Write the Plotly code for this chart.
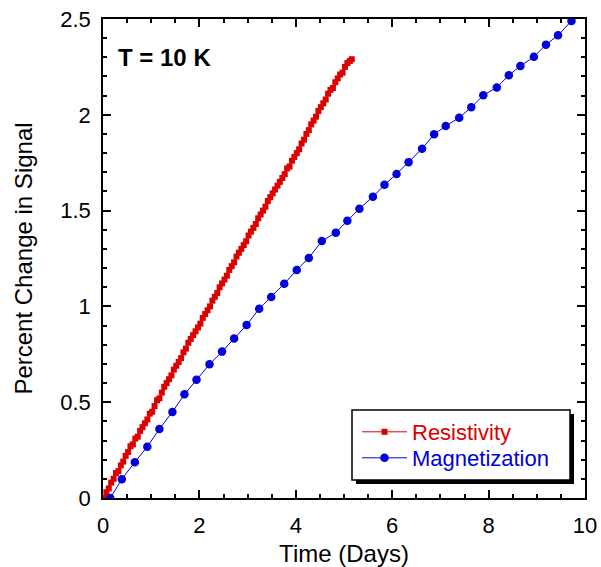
import plotly.graph_objects as go

# ---- data ----
mag_days = [0.15, 0.39, 0.66, 0.92, 1.17, 1.44, 1.69, 1.94, 2.21, 2.47, 2.72, 2.98, 3.24, 3.49,
            3.76, 4.02, 4.27, 4.54, 4.83, 5.07, 5.32, 5.60, 5.84, 6.09, 6.34, 6.62, 6.87, 7.11,
            7.39, 7.64, 7.89, 8.17, 8.42, 8.66, 8.94, 9.19, 9.44, 9.72]
mag_pct = [0.00, 0.098, 0.187, 0.268, 0.36, 0.449, 0.541, 0.617, 0.698, 0.764, 0.833, 0.903,
           0.988, 1.049, 1.118, 1.19, 1.253, 1.341, 1.385, 1.447, 1.51, 1.572, 1.635, 1.691,
           1.753, 1.823, 1.898, 1.941, 1.985, 2.039, 2.102, 2.143, 2.206, 2.255, 2.303, 2.366,
           2.415, 2.49]

res_days = [0.02, 0.07, 0.12, 0.17, 0.22, 0.27, 0.32, 0.37, 0.42, 0.47, 0.52, 0.57, 0.62, 0.67,
            0.72, 0.77, 0.82, 0.87, 0.92, 0.97, 1.02, 1.07, 1.12, 1.17, 1.22, 1.27, 1.32, 1.37,
            1.42, 1.47, 1.52, 1.57, 1.62, 1.67, 1.72, 1.77, 1.82, 1.87, 1.92, 1.97, 2.02, 2.07,
            2.12, 2.17, 2.22, 2.27, 2.32, 2.37, 2.42, 2.47, 2.52, 2.57, 2.62, 2.67, 2.72, 2.77,
            2.82, 2.87, 2.92, 2.97, 3.02, 3.07, 3.12, 3.17, 3.22, 3.27, 3.32, 3.37, 3.42, 3.47,
            3.52, 3.57, 3.62, 3.67, 3.72, 3.77, 3.82, 3.87, 3.92, 3.97, 4.02, 4.07, 4.12, 4.17,
            4.22, 4.27, 4.32, 4.37, 4.42, 4.47, 4.52, 4.57, 4.62, 4.67, 4.72, 4.77, 4.82, 4.87,
            4.92, 4.97, 5.02, 5.07, 5.12, 5.16]
res_pct = [0.00, 0.03, 0.05, 0.08, 0.10, 0.13, 0.14, 0.17, 0.19, 0.22, 0.24, 0.27, 0.28, 0.31,
           0.32, 0.35, 0.37, 0.39, 0.41, 0.44, 0.45, 0.48, 0.51, 0.52, 0.55, 0.58, 0.60, 0.62,
           0.64, 0.67, 0.69, 0.71, 0.73, 0.76, 0.78, 0.81, 0.83, 0.85, 0.87, 0.89, 0.91, 0.94,
           0.96, 0.98, 1.00, 1.03, 1.05, 1.07, 1.10, 1.12, 1.14, 1.16, 1.19, 1.21, 1.23, 1.26,
           1.28, 1.30, 1.32, 1.34, 1.37, 1.39, 1.41, 1.43, 1.46, 1.48, 1.50, 1.52, 1.55, 1.57,
           1.59, 1.61, 1.63, 1.65, 1.67, 1.69, 1.72, 1.73, 1.76, 1.78, 1.80, 1.82, 1.85, 1.87,
           1.90, 1.92, 1.95, 1.97, 1.99, 2.02, 2.04, 2.06, 2.08, 2.11, 2.13, 2.14, 2.17, 2.19,
           2.21, 2.22, 2.25, 2.27, 2.28, 2.29]

x_ticks = [0, 2, 4, 6, 8, 10]
y_ticks = [0, 0.5, 1, 1.5, 2, 2.5]
y_tick_labels = ["0", "0.5", "1", "1.5", "2", "2.5"]

RED = "rgb(220,0,0)"
BLUE = "rgb(0,0,220)"
FONT = "Liberation Sans, Arial, sans-serif"

W, H = 601, 567
L, R, T, B = 103, 585, 19, 498

def px(xp):
    return (xp - L) / (R - L)

def py(yp):
    return (B - yp) / (B - T)

fig = go.Figure()
fig.add_trace(go.Scatter(
    x=res_days, y=res_pct, mode="lines+markers",
    name="<span style='color:rgb(220,0,0)'>Resistivity</span>",
    line=dict(color=RED, width=1),
    marker=dict(symbol="square", size=6, color=RED),
    legend="legend",
))
fig.add_trace(go.Scatter(
    x=mag_days, y=mag_pct, mode="lines+markers",
    name="<span style='color:rgb(0,0,220)'>Magnetization</span>",
    line=dict(color=BLUE, width=1),
    marker=dict(symbol="circle", size=8.5, color=BLUE),
    legend="legend2",
))

axis_common = dict(
    showgrid=False, zeroline=False, showline=True, linecolor="black", linewidth=1.5,
    mirror="ticks", ticks="inside", ticklen=8, tickwidth=1.5, tickcolor="black",
    tickfont=dict(family=FONT, size=22, color="black"), automargin=False,
)

fig.update_xaxes(
    range=[0, 10], tickvals=x_ticks, ticktext=[str(v) for v in x_ticks],
    ticklabelstandoff=7,
    title=dict(text="Time (Days)", font=dict(family=FONT, size=24, color="black"), standoff=8),
    minor=dict(dtick=0.5, ticks="inside", ticklen=4, tickwidth=1.5, tickcolor="black"),
    **axis_common,
)
fig.update_yaxes(
    range=[0, 2.5], tickvals=y_ticks, ticktext=y_tick_labels,
    ticklabelstandoff=6,
    title=dict(text="Percent Change in Signal", font=dict(family=FONT, size=24, color="black"), standoff=21),
    minor=dict(dtick=0.1, ticks="inside", ticklen=4, tickwidth=1.5, tickcolor="black"),
    **axis_common,
)

# legend box with drop shadow
fig.add_shape(type="rect", xref="paper", yref="paper",
              x0=px(356), x1=px(574), y0=py(484), y1=py(414),
              fillcolor="black", line=dict(width=0), layer="above")
fig.add_shape(type="rect", xref="paper", yref="paper",
              x0=px(352), x1=px(570), y0=py(480), y1=py(410),
              fillcolor="white", line=dict(color="black", width=1.5), layer="above")

fig.add_annotation(text="<b>T = 10 K</b>", xref="paper", yref="paper",
                   x=px(116), y=py(57), xanchor="left", yanchor="middle", showarrow=False,
                   font=dict(family=FONT, size=24, color="black"))

legend_style = dict(xanchor="left", yanchor="middle", bgcolor="rgba(0,0,0,0)",
                    borderwidth=0, itemwidth=45,
                    font=dict(family=FONT, size=22, color="black"))

fig.update_layout(
    width=W, height=H,
    margin=dict(l=L, r=W - R, t=T, b=H - B),
    paper_bgcolor="white", plot_bgcolor="white",
    showlegend=True,
    legend=dict(x=px(357), y=py(432), **legend_style),
    legend2=dict(x=px(357), y=py(458), **legend_style),
)

fig.write_html("out.html", config={"displayModeBar": False},
               post_script="document.body.style.margin='0';")
